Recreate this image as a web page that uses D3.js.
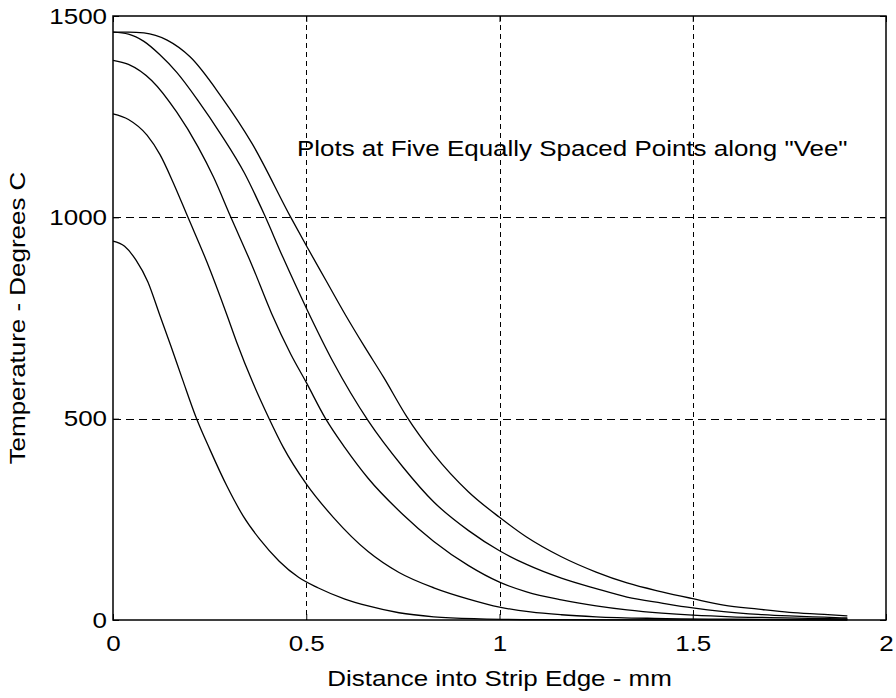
<!DOCTYPE html>
<html>
<head>
<meta charset="utf-8">
<script src="https://cdn.jsdelivr.net/npm/d3@7"></script>
<style>
body { margin: 0; background: #fff; }
text { font-family: "Liberation Sans", Arial, sans-serif; fill: #000; }
</style>
</head>
<body>
<div class="chart"></div>
<script>
// five temperature profiles (distance mm / temperature C)
let dist1 = [0, 0.04, 0.08, 0.14, 0.2, 0.28, 0.36, 0.46, 0.5, 0.55, 0.6, 0.65, 0.7, 0.76, 0.83, 0.92, 1.0, 1.07, 1.16, 1.25, 1.33, 1.42, 1.5, 1.58, 1.67, 1.75, 1.84, 1.9];
let temp1 = [1460, 1460, 1458, 1440, 1398, 1300, 1183, 1000, 930, 845, 760, 680, 603, 505, 412, 318, 255, 206, 157, 119, 92, 70, 53, 37, 27, 19, 14, 10];

let dist2 = [0, 0.04, 0.08, 0.12, 0.165, 0.22, 0.28, 0.34, 0.39, 0.44, 0.5, 0.57, 0.66, 0.75, 0.83, 0.92, 1.0, 1.07, 1.16, 1.25, 1.33, 1.42, 1.5, 1.58, 1.67, 1.75, 1.84, 1.9];
let temp2 = [1460, 1455, 1437, 1405, 1360, 1290, 1205, 1110, 1010, 900, 775, 640, 495, 380, 293, 222, 172, 138, 104, 78, 57, 42, 30, 21, 14, 10, 7, 5];

let dist3 = [0, 0.04, 0.1, 0.165, 0.22, 0.26, 0.305, 0.36, 0.41, 0.46, 0.5, 0.55, 0.6, 0.66, 0.75, 0.83, 0.92, 1.0, 1.07, 1.16, 1.25, 1.33, 1.42, 1.5, 1.6, 1.7, 1.8, 1.9];
let temp3 = [1390, 1380, 1340, 1261, 1175, 1100, 1000, 880, 762, 660, 590, 500, 428, 352, 262, 195, 135, 94, 70, 50, 35, 25, 17, 12, 8, 6, 4, 3];

let dist4 = [0, 0.04, 0.088, 0.122, 0.155, 0.194, 0.243, 0.295, 0.32, 0.362, 0.404, 0.44, 0.5, 0.57, 0.66, 0.74, 0.83, 0.92, 1.0, 1.08, 1.16, 1.25, 1.4, 1.6, 1.9];
let temp4 = [1257, 1243, 1204, 1155, 1088, 1000, 889, 757, 690, 589, 500, 430, 338, 255, 170, 118, 80, 52, 32, 20, 13, 8, 4, 2, 1];

let dist5 = [0, 0.03, 0.06, 0.09, 0.12, 0.15, 0.18, 0.215, 0.25, 0.295, 0.337, 0.38, 0.43, 0.48, 0.53, 0.6, 0.66, 0.74, 0.83, 0.95, 1.1, 1.4, 1.9];
let temp5 = [941, 928, 893, 840, 760, 680, 597, 503, 425, 332, 258, 200, 146, 106, 80, 52, 35, 18, 8, 3, 1, 0.3, 0];

let xTicks = [0, 0.5, 1, 1.5, 2];
let yTicks = [0, 500, 1000, 1500];
let xLabel = 'Distance into Strip Edge - mm';
let yLabel = 'Temperature - Degrees C';
let note = 'Plots at Five Equally Spaced Points along "Vee"';
let notePos = [0.476, 1172];

let margin = {top: 16, right: 10, bottom: 78, left: 113};
let width = 896 - margin.left - margin.right;
let height = 698 - margin.top - margin.bottom;
let stretch = 1.18; // the original font is wider than Arial

let svg = d3.select('.chart')
	.append('svg')
	.attr('width', 896)
	.attr('height', 698)
	.append('g')
	.attr('transform', 'translate(' + margin.left + ', ' + margin.top + ')');

let xScale = d3.scaleLinear().domain([0, 2]).range([0, width]);
let yScale = d3.scaleLinear().domain([0, 1500]).range([height, 0]);

// dashed grid
svg.append('g')
	.selectAll('line')
	.data(xTicks.slice(1, -1))
	.enter()
	.append('line')
	.attr('x1', d => Math.round(xScale(d)) + 0.5)
	.attr('x2', d => Math.round(xScale(d)) + 0.5)
	.attr('y1', 0)
	.attr('y2', height)
	.style('stroke', '#000')
	.style('stroke-dasharray', '5,4');

svg.append('g')
	.selectAll('line')
	.data(yTicks.slice(1, -1))
	.enter()
	.append('line')
	.attr('x1', 0)
	.attr('x2', width)
	.attr('y1', d => Math.round(yScale(d)) + 0.5)
	.attr('y2', d => Math.round(yScale(d)) + 0.5)
	.style('stroke', '#000')
	.style('stroke-dasharray', '8,5');

// curves
let series = [
	[dist1, temp1],
	[dist2, temp2],
	[dist3, temp3],
	[dist4, temp4],
	[dist5, temp5]
];

let line = d3.line()
	.x(d => xScale(d[0]))
	.y(d => yScale(d[1]))
	.curve(d3.curveMonotoneX);

svg.selectAll('.curve')
	.data(series)
	.enter()
	.append('path')
	.attr('class', 'curve')
	.attr('d', s => line(d3.zip(s[0], s[1])))
	.style('fill', 'none')
	.style('stroke', '#000')
	.style('stroke-width', 1.3);

// axes, ticks pointing in
let xAxis = svg.append('g')
	.attr('transform', 'translate(0, ' + height + ')')
	.call(d3.axisBottom(xScale).tickValues(xTicks).tickFormat(d3.format('')).tickSizeInner(-6).tickSizeOuter(0).tickPadding(15));

let yAxis = svg.append('g')
	.call(d3.axisLeft(yScale).tickValues(yTicks).tickFormat(d3.format('')).tickSizeInner(-6).tickSizeOuter(0));

svg.append('g')
	.call(d3.axisTop(xScale).tickValues(xTicks).tickFormat('').tickSizeInner(-6).tickSizeOuter(0));

svg.append('g')
	.attr('transform', 'translate(' + width + ', 0)')
	.call(d3.axisRight(yScale).tickValues(yTicks).tickFormat('').tickSizeInner(-6).tickSizeOuter(0));

svg.selectAll('.domain').remove();
svg.selectAll('.tick line').style('stroke', '#000');

[xAxis, yAxis].forEach(a => a.selectAll('text')
	.style('font-size', '22px')
	.style('font-family', '"Liberation Sans", Arial, sans-serif')
	.attr('fill', '#000'));
xAxis.selectAll('text').attr('transform', 'scale(' + stretch + ',1)');
yAxis.selectAll('text').attr('x', -6 / stretch).attr('transform', 'scale(' + stretch + ',1)');

// frame
svg.append('rect')
	.attr('x', 0)
	.attr('y', 0)
	.attr('width', width)
	.attr('height', height)
	.style('fill', 'none')
	.style('stroke', '#000')
	.style('stroke-width', 1.5);

// labels
svg.append('text')
	.attr('transform', 'translate(' + width / 2 + ', ' + (height + 66) + ') scale(' + stretch + ',1)')
	.attr('text-anchor', 'middle')
	.style('font-size', '22px')
	.text(xLabel);

svg.append('text')
	.attr('transform', 'translate(' + (-88) + ', ' + height / 2 + ') rotate(-90) scale(' + stretch + ',1)')
	.attr('text-anchor', 'middle')
	.style('font-size', '22px')
	.text(yLabel);

svg.append('text')
	.attr('transform', 'translate(' + xScale(notePos[0]) + ', ' + yScale(notePos[1]) + ') scale(' + stretch + ',1)')
	.attr('dy', '0.35em')
	.style('font-size', '22px')
	.text(note);
</script>
</body>
</html>
